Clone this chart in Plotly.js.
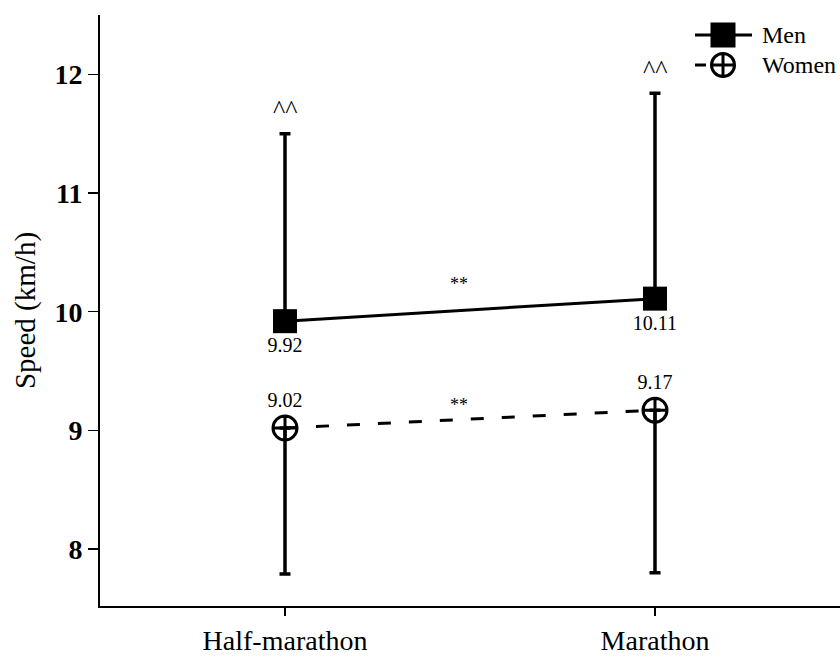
<!DOCTYPE html>
<html><head><meta charset="utf-8">
<script src="https://cdn.plot.ly/plotly-3.0.1.min.js"></script>
<style>body{margin:0;background:#fff}#c{width:840px;height:657px}</style>
</head><body><div id="c"></div>
<script>
const categories = ["Half-marathon", "Marathon"];
const menSpeed = [9.92, 10.11];
const menErrUp = [1.58, 1.73];
const womenSpeed = [9.02, 9.17];
const womenErrDown = [1.23, 1.37];
const menLabels = ["9.92", "10.11"];
const womenLabels = ["9.02", "9.17"];
const sigMarks = ["^^", "^^"];
const sigBetween = ["**", "**"];
const seriesNames = ["Men", "Women"];

const serif = "'Liberation Serif', 'Times New Roman', Times, serif";

const traces = [
  {
    x: categories, y: menSpeed, name: seriesNames[0], type: "scatter", mode: "lines+markers+text",
    text: menLabels, textposition: "bottom center", textfont: {family: serif, size: 20, color: "#000"},
    line: {color: "#000", width: 3},
    marker: {symbol: "square", size: 24, color: "#000"},
    error_y: {type: "data", symmetric: false, array: menErrUp, arrayminus: [0, 0], color: "#000", thickness: 3.5, width: 5.5},
    showlegend: false
  },
  {
    x: categories, y: womenSpeed, name: seriesNames[1], type: "scatter", mode: "lines+markers+text",
    text: womenLabels, textposition: "top center", textfont: {family: serif, size: 20, color: "#000"},
    line: {color: "#000", width: 3, dash: "13px,18px"},
    marker: {symbol: "circle-cross-open", size: 24, color: "#000", line: {width: 3, color: "#000"}},
    error_y: {type: "data", symmetric: false, array: [0, 0], arrayminus: womenErrDown, color: "#000", thickness: 3.5, width: 5.5},
    showlegend: false
  }
];

const annotations = [];
categories.forEach((c, i) => {
  annotations.push({x: c, y: menSpeed[i] + menErrUp[i], yshift: 24, text: sigMarks[i], showarrow: false,
    font: {family: serif, size: 26, color: "#000"}});
});
annotations.push({x: 0.47, xref: "x", y: (menSpeed[0] + menSpeed[1]) / 2, yshift: 26, text: sigBetween[0], showarrow: false,
  font: {family: serif, size: 18, color: "#000"}});
annotations.push({x: 0.47, xref: "x", y: (womenSpeed[0] + womenSpeed[1]) / 2, yshift: 14, text: sigBetween[1], showarrow: false,
  font: {family: serif, size: 18, color: "#000"}});
// legend text
annotations.push({xref: "paper", yref: "paper", x: 0.8919, y: 0.966, xanchor: "left", yanchor: "middle",
  text: seriesNames[0], showarrow: false, font: {family: serif, size: 24, color: "#000"}});
annotations.push({xref: "paper", yref: "paper", x: 0.8919, y: 0.915, xanchor: "left", yanchor: "middle",
  text: seriesNames[1], showarrow: false, font: {family: serif, size: 24, color: "#000"}});

// legend glyphs (pixel-sized shapes anchored at top-right of plot area)
function pshape(type, x0, x1, y0, y1, extra) {
  return Object.assign({type: type, xref: "paper", yref: "paper", xsizemode: "pixel", ysizemode: "pixel",
    xanchor: 1, yanchor: 1, x0: x0, x1: x1, y0: y0, y1: y1, line: {color: "#000", width: 3}}, extra || {});
}
const shapes = [
  pshape("line", -145, -88, -20, -20),
  pshape("rect", -129.5, -104.5, -32.5, -7.5, {fillcolor: "#000", line: {width: 0}}),
  pshape("line", -145, -134, -50, -50),
  pshape("circle", -128.5, -105.5, -61.5, -38.5, {fillcolor: "#fff"}),
  pshape("line", -128.5, -105.5, -50, -50),
  pshape("line", -117, -117, -61.5, -38.5)
];

const layout = {
  width: 840, height: 657,
  margin: {l: 100, r: 0, t: 15, b: 51},
  paper_bgcolor: "#fff", plot_bgcolor: "#fff",
  showlegend: false,
  xaxis: {
    type: "category", range: [-0.5, 1.5], showgrid: false, zeroline: false,
    showline: true, linecolor: "#000", linewidth: 2,
    ticks: "outside", ticklen: 8, tickcolor: "#000", tickwidth: 1.5,
    tickfont: {family: serif, size: 28, color: "#000"}
  },
  yaxis: {
    range: [7.52, 12.5], tickvals: [8, 9, 10, 11, 12], ticktext: ["<b>8</b>", "<b>9</b>", "<b>10</b>", "<b>11</b>", "<b>12</b>"],
    showgrid: false, zeroline: false, showline: true, linecolor: "#000", linewidth: 2,
    ticks: "outside", ticklen: 10, tickcolor: "#000", tickwidth: 1.5,
    tickfont: {family: serif, size: 28, color: "#000"},
    title: {text: "Speed (km/h)", font: {family: serif, size: 29, color: "#000"}, standoff: 10}
  },
  annotations: annotations,
  shapes: shapes
};

Plotly.newPlot("c", traces, layout, {displayModeBar: false, staticPlot: true});
</script>
</body></html>
